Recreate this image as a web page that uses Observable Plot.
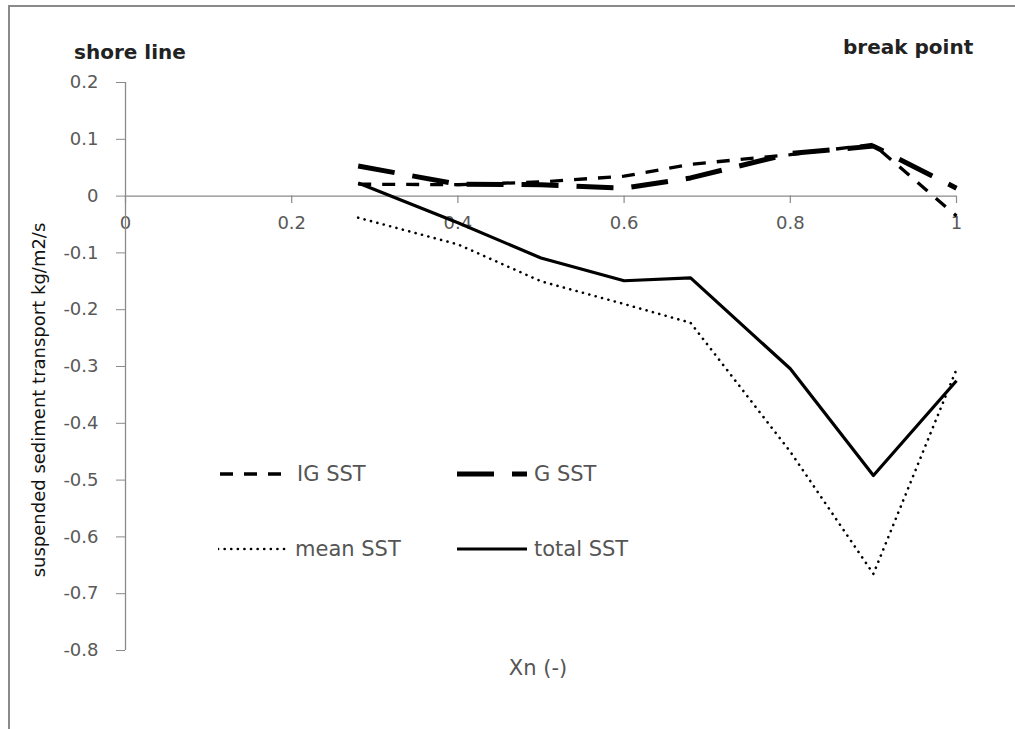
<!DOCTYPE html>
<html>
<head>
<meta charset="utf-8">
<script src="https://cdn.jsdelivr.net/npm/d3@7"></script>
<script src="https://cdn.jsdelivr.net/npm/@observablehq/plot@0.6"></script>
<style>
  body { margin: 0; background: #fff; }
  #wrap { position: relative; width: 1015px; height: 729px; overflow: hidden; font-family: "DejaVu Sans", Verdana, sans-serif; }
  #frame { position: absolute; left: 8px; top: 5px; width: 1030px; height: 740px; border: 2px solid #8a8a8a; box-sizing: border-box; }
  #chart { position: absolute; left: 0; top: 0; }
  .note { position: absolute; font-weight: bold; font-size: 20px; color: #222; line-height: 1; white-space: nowrap; }
  #ylab { position: absolute; left: 39px; top: 400px; transform: translate(-50%, -50%) rotate(-90deg); white-space: nowrap; font-size: 18px; color: #111; line-height: 1; }
  #xlab { position: absolute; left: 538px; top: 668px; transform: translate(-50%, -50%); font-size: 21px; color: #555; line-height: 1; white-space: nowrap; }
  .leg { position: absolute; font-size: 21px; color: #555; display: flex; align-items: center; white-space: nowrap; line-height: 1; }
  .leg svg { margin-right: 7px; }
</style>
</head>
<body>
<div id="wrap">
  <div id="frame"></div>
  <div id="chart"></div>
  <div class="note" style="left:74px; top:42px;">shore line</div>
  <div class="note" style="left:843px; top:37px;">break point</div>
  <div id="ylab">suspended sediment transport kg/m2/s</div>
  <div id="xlab">Xn (-)</div>
  <div id="legend"></div>
</div>
<script>
const xs = [0.28, 0.4, 0.5, 0.6, 0.68, 0.8, 0.9, 1.0];
const igSST = [0.021, 0.02, 0.025, 0.035, 0.056, 0.073, 0.091, -0.035];
const gSST = [0.053, 0.021, 0.02, 0.014, 0.032, 0.075, 0.088, 0.014];
const meanSST = [-0.038, -0.085, -0.15, -0.19, -0.223, -0.45, -0.665, -0.305];
const totalSST = [0.023, -0.047, -0.109, -0.149, -0.144, -0.304, -0.492, -0.325];
const xTicks = [0, 0.2, 0.4, 0.6, 0.8, 1];
const yTicks = [0.2, 0.1, 0, -0.1, -0.2, -0.3, -0.4, -0.5, -0.6, -0.7, -0.8];
const seriesNames = ["IG SST", "G SST", "mean SST", "total SST"];
const styles = {
  "IG SST": {strokeWidth: 3.3, strokeDasharray: "13,11", strokeLinecap: "butt"},
  "G SST": {strokeWidth: 5, strokeDasharray: "37,18", strokeLinecap: "butt"},
  "mean SST": {strokeWidth: 2.6, strokeDasharray: "0.1,6.5", strokeLinecap: "round"},
  "total SST": {strokeWidth: 3.2, strokeLinecap: "butt"}
};
const seriesVals = [igSST, gSST, meanSST, totalSST];
const rows = seriesNames.map((name, i) => xs.map((x, j) => ({series: name, x, y: seriesVals[i][j]})));

const fmt = d => d === 0 ? "0" : String(+d.toFixed(1));

const plot = Plot.plot({
  width: 1015,
  height: 729,
  marginLeft: 125,
  marginRight: 59,
  marginTop: 82,
  marginBottom: 79,
  x: {domain: [0, 1], axis: null},
  y: {domain: [-0.8, 0.2]},
  style: {fontFamily: "DejaVu Sans, Verdana, sans-serif", background: "transparent"},
  marks: [
    Plot.ruleY([0], {stroke: "#8a8a8a", strokeWidth: 1.3}),
    Plot.ruleX(xTicks, {x: d => d, y1: 0, y2: -0.013, stroke: "#8a8a8a", strokeWidth: 1.2}),
    Plot.text(xTicks, {x: d => d, y: 0, dy: 27, text: fmt, fontSize: 18, fill: "#595959"}),
    Plot.axisY(yTicks, {tickSize: 9, tickPadding: 18, tickFormat: fmt, fontSize: 18, color: "#595959", stroke: "#8a8a8a", label: null}),
    Plot.ruleX([0], {stroke: "#8a8a8a", strokeWidth: 1.3}),
    ...rows.map((data, i) => Plot.line(data, {x: "x", y: "y", stroke: "#000", ...styles[seriesNames[i]]}))
  ]
});
document.getElementById("chart").appendChild(plot);

// Legend
const legPos = [
  {name: "IG SST", left: 220, top: 474},
  {name: "G SST", left: 457, top: 474},
  {name: "mean SST", left: 218, top: 549},
  {name: "total SST", left: 457, top: 549}
];
const legend = document.getElementById("legend");
legPos.forEach(p => {
  const s = styles[p.name];
  const div = document.createElement("div");
  div.className = "leg";
  div.style.left = p.left + "px";
  div.style.top = (p.top - 12) + "px";
  div.style.height = "24px";
  const w = 70;
  div.innerHTML = `<svg width="${w}" height="10"><line x1="0" y1="5" x2="${w}" y2="5" stroke="#000" stroke-width="${s.strokeWidth}" ${s.strokeDasharray ? `stroke-dasharray="${s.strokeDasharray}"` : ""} stroke-linecap="${s.strokeLinecap}"/></svg><span>${p.name}</span>`;
  legend.appendChild(div);
});
</script>
</body>
</html>
